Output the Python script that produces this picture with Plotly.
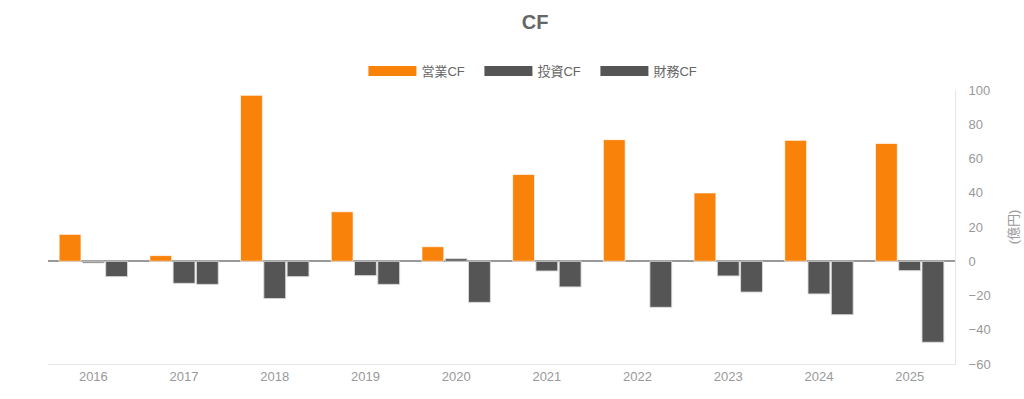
import plotly.graph_objects as go

years = ["2016", "2017", "2018", "2019", "2020", "2021", "2022", "2023", "2024", "2025"]
operating_cf = [15.7, 3.3, 96.9, 28.9, 8.5, 50.7, 71.0, 39.9, 70.6, 68.8]
investing_cf = [-1.0, -12.9, -21.8, -8.4, 1.5, -5.7, None, -8.6, -19.1, -5.5]
financing_cf = [-9.0, -13.5, -9.0, -13.5, -24.0, -15.0, -26.9, -18.0, -31.2, -47.3]
series_names = ["営業CF", "投資CF", "財務CF"]
series_colors = ["#F9820B", "#555555", "#555555"]

font_family = "Liberation Sans, Arial, Noto Sans CJK JP, sans-serif"

fig = go.Figure()
for vals, name, col, edge in zip([operating_cf, investing_cf, financing_cf], series_names, series_colors,
                                 ["rgba(255,255,255,0.7)", "rgba(220,220,220,0.9)", "rgba(220,220,220,0.9)"]):
    fig.add_trace(go.Bar(x=years, y=vals, name=name, showlegend=False, legendgroup=name,
                         marker=dict(color=col, line=dict(color=edge, width=1))))
# legend entries with wide rectangular swatches
for name, col in zip(series_names, series_colors):
    fig.add_trace(go.Scatter(x=[None], y=[None], mode="lines", name=name, legendgroup=name,
                             line=dict(color=col, width=14)))

fig.update_layout(
    width=1024, height=399,
    paper_bgcolor="white", plot_bgcolor="white",
    font=dict(family=font_family, color="#999999", size=13),
    title=dict(text="<b>CF</b>", x=0.5225, xanchor="center", y=0.945, yanchor="middle",
               font=dict(size=20, color="#666666", family=font_family)),
    legend=dict(orientation="h", x=0.5396, xanchor="center", y=1.069, yanchor="middle",
                font=dict(size=13, color="#666666", family=font_family),
                traceorder="normal", itemwidth=48, entrywidth=53, entrywidthmode="pixels"),
    barmode="group", bargap=0.23, bargroupgap=0.06,
    margin=dict(l=48, r=69, t=90, b=35),
    showlegend=True,
)
fig.update_xaxes(showgrid=False, showline=True, linecolor="#e6e6e6", linewidth=1,
                 ticks="", tickfont=dict(size=13, color="#999999"), zeroline=False)
fig.update_yaxes(side="right", range=[-60, 100], dtick=20, showgrid=False,
                 showline=True, linecolor="#e6e6e6", linewidth=1,
                 zeroline=True, zerolinecolor="#999999", zerolinewidth=1.5,
                 tickfont=dict(size=13, color="#999999"), ticklabelstandoff=10,
                 automargin=False,
                 title=dict(text="(億円)", font=dict(size=13, color="#999999"), standoff=19))

fig.write_html("out.html", config={"displayModeBar": False},
               post_script="document.body.style.margin='0';")
